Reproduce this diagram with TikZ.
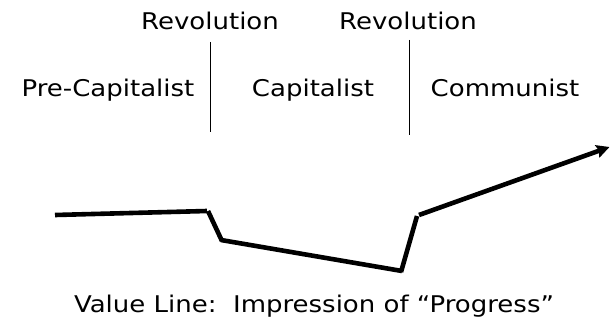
\documentclass[tikz,border=0pt]{standalone}
\usepackage{fontspec}
\setmainfont[FakeStretch=1.13]{DejaVu Sans}
\usetikzlibrary{arrows.meta}
\begin{document}
\begin{tikzpicture}[x=1pt,y=-1pt,
  lbl/.style={anchor=base,inner sep=0pt,font=\fontsize{23}{26}\selectfont},
  divider/.style={line width=1pt},
  value/.style={line width=4.6pt,line cap=butt},
  valuearrow/.style={value,-{Stealth[length=13pt,width=13pt,inset=2pt]}}]
\useasboundingbox (0,0) rectangle (610,321);
% labels
\node[lbl] (rev1) at (210,30) {Revolution};
\node[lbl] (rev2) at (408,30) {Revolution};
\node[lbl] (pre) at (108,96) {Pre-Capitalist};
\node[lbl] (cap) at (313,96) {Capitalist};
\node[lbl] (com) at (505,96) {Communist};
\node[lbl] (val) at (314,312) {Value Line:\ \ Impression of “Progress”};
% dividers
\coordinate (d1t) at (210.5,42);
\coordinate (d1b) at (210.5,132);
\coordinate (d2t) at (409,40);
\coordinate (d2b) at (409,135);
\draw[divider] (d1t) -- (d1b);
\draw[divider] (d2t) -- (d2b);
% value line
\coordinate (p0) at (55,215);
\coordinate (p1) at (207,211);
\coordinate (p1b) at (208,211);
\coordinate (p2) at (222,241);
\coordinate (p2b) at (221,240);
\coordinate (p3) at (402,271);
\coordinate (p3b) at (401,272);
\coordinate (p4) at (417,216);
\coordinate (p4b) at (419,215);
\coordinate (p5) at (609.5,147);
\draw[value] (p0) -- (p1);
\draw[value] (p1b) -- (p2);
\draw[value] (p2b) -- (p3);
\draw[value] (p3b) -- (p4);
\draw[valuearrow] (p4b) -- (p5);
\end{tikzpicture}
\end{document}
